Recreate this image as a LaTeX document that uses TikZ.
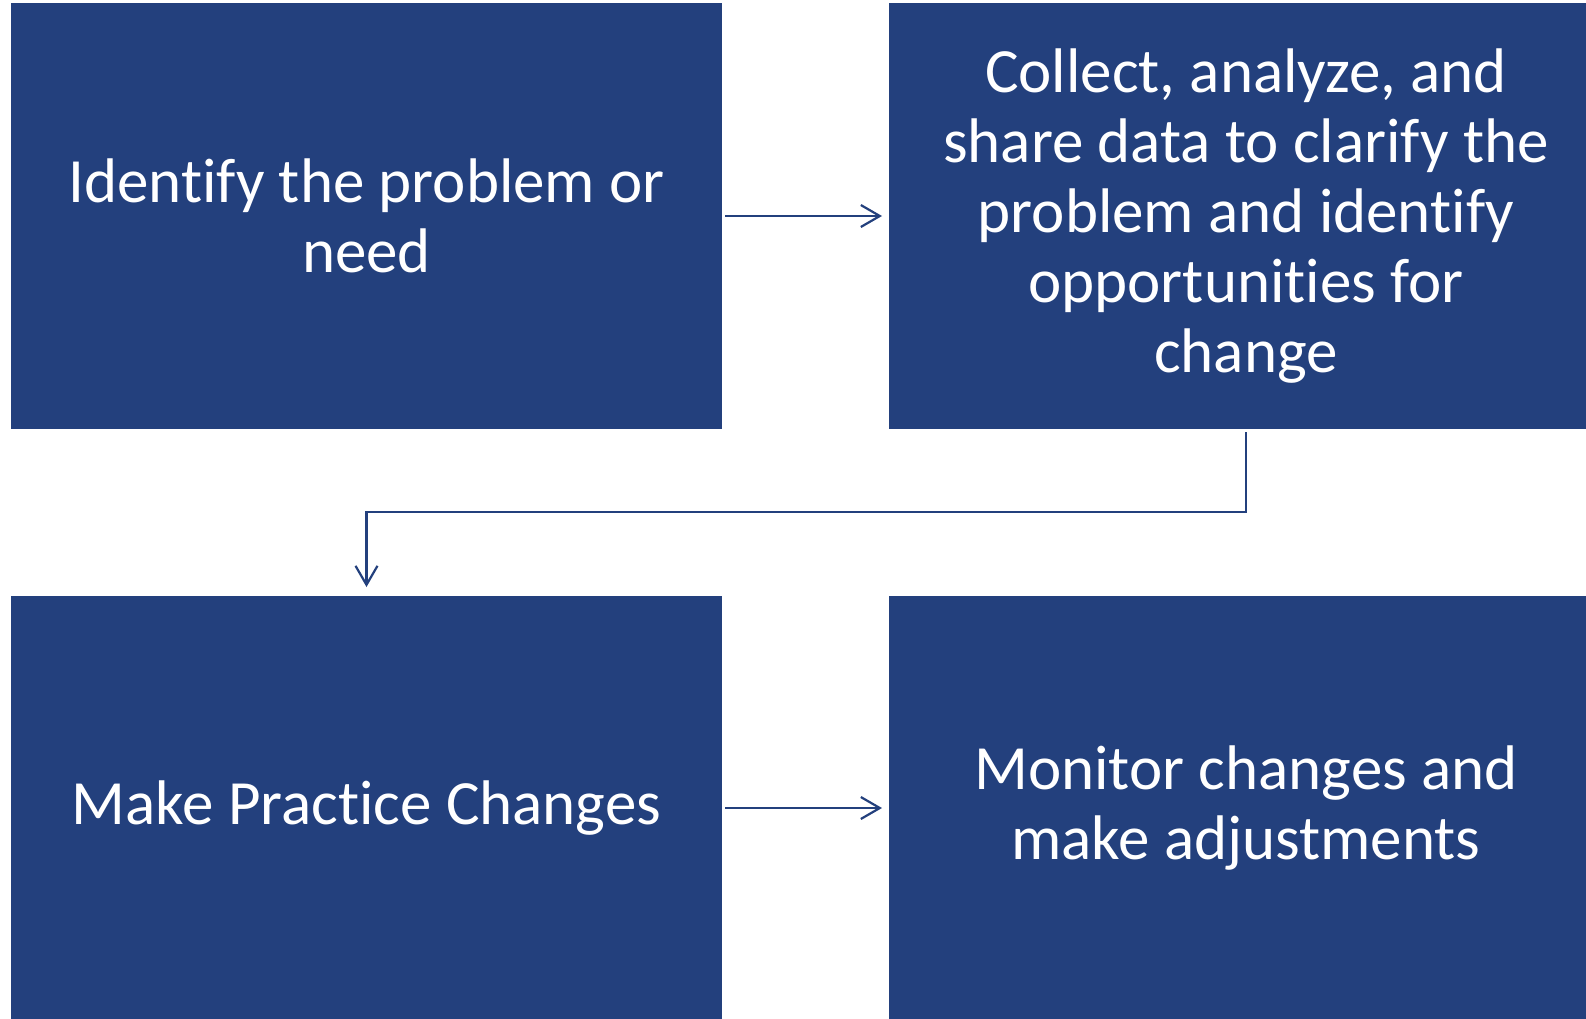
\documentclass[tikz,border=0pt]{standalone}
\usepackage{fontspec}
\setmainfont[Ligatures=NoCommon,RawFeature={-liga;-clig;-dlig}]{Carlito}
\usetikzlibrary{arrows.meta}
\definecolor{boxblue}{RGB}{35,64,125}
\tikzset{
  stepbox/.style={fill=boxblue, draw=none, text=white, align=center,
    inner sep=0pt, outer sep=0pt,
    font=\fontsize{63}{70}\selectfont},
  arr/.style={draw=boxblue, line width=2.2pt,
    -{Straight Barb[length=19pt,width=22pt,line width=2.2pt]}}
}
\begin{document}
\begin{tikzpicture}[x=1pt,y=-1pt]
\useasboundingbox (0,0) rectangle (1586,1018);
\clip (0,0) rectangle (1586,1018);
\node[stepbox, minimum width=711pt, minimum height=426pt] (tl) at (366.5,216)
  {Identify the problem or\\need};
\node[stepbox, minimum width=714pt, minimum height=426pt] (tr) at (1246,216)
  {Collect, analyze, and\\share data to clarify the\\problem and identify\\opportunities for\\change};
\node[stepbox, minimum width=711pt, minimum height=424pt] (bl) at (366.5,808)
  {Make Practice Changes};
\node[stepbox, minimum width=714pt, minimum height=424pt] (br) at (1246,808)
  {Monitor changes and\\make adjustments};
\coordinate (mid) at (0,512);
\draw[arr, shorten <=3pt, shorten >=7pt] (tl.east) -- (tr.west);
\draw[arr, shorten <=3pt, shorten >=7pt] (bl.east) -- (br.west);
\draw[arr, shorten <=3pt, shorten >=9pt] (tr.south) -- (tr.south |- mid) -| (bl.north);
\end{tikzpicture}
\end{document}
